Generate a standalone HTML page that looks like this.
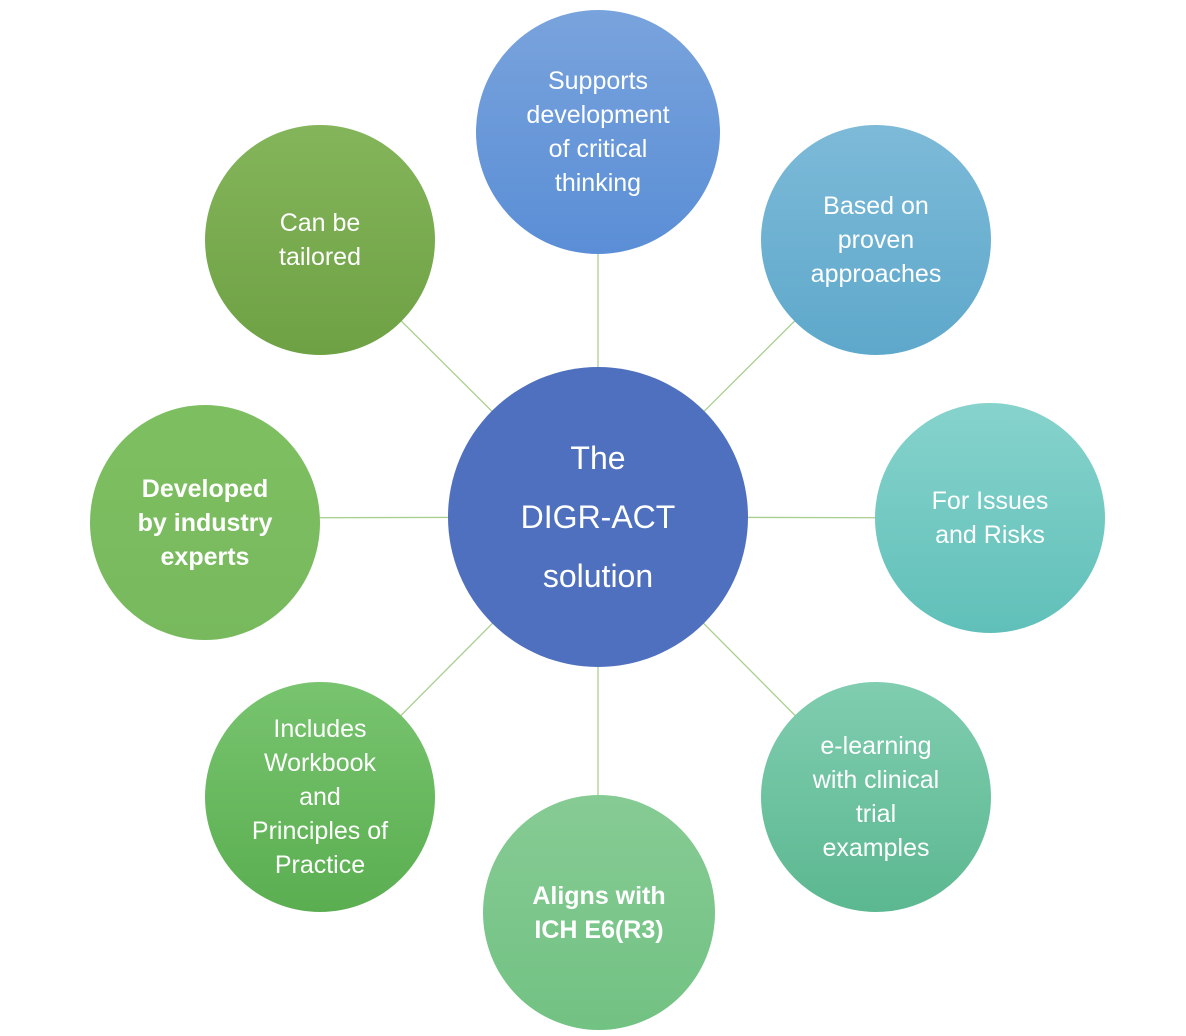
<!DOCTYPE html>
<html><head><meta charset="utf-8"><style>
body{margin:0;background:#fff;width:1186px;height:1036px;overflow:hidden;font-family:"Liberation Sans",sans-serif}
.c{position:absolute;border-radius:50%;display:flex;align-items:center;justify-content:center;text-align:center;color:#fff;font-size:25px;line-height:34px}
</style></head><body>
<svg width="1186" height="1036" style="position:absolute;left:0;top:0">
<g stroke="#a9cf8f" stroke-width="1.3">
<line x1="598" y1="517" x2="598" y2="132"/>
<line x1="598" y1="517" x2="876" y2="240"/>
<line x1="598" y1="517" x2="990" y2="518"/>
<line x1="598" y1="517" x2="876" y2="797"/>
<line x1="598" y1="517" x2="598" y2="910"/>
<line x1="598" y1="517" x2="320" y2="797"/>
<line x1="598" y1="517" x2="205" y2="518"/>
<line x1="598" y1="517" x2="320" y2="240"/>
</g></svg>
<div class="c" style="left:476px;top:10px;width:244px;height:244px;background:linear-gradient(#79a3dc,#5a8ed6)">Supports<br>development<br>of critical<br>thinking</div>
<div class="c" style="left:761px;top:125px;width:230px;height:230px;background:linear-gradient(#7dbad8,#5ea8cb)">Based on<br>proven<br>approaches</div>
<div class="c" style="left:875px;top:403px;width:230px;height:230px;background:linear-gradient(#86d3cc,#60c0b9)">For Issues<br>and Risks</div>
<div class="c" style="left:761px;top:682px;width:230px;height:230px;background:linear-gradient(#80cdb0,#5bb890)">e-learning<br>with clinical<br>trial<br>examples</div>
<div class="c" style="left:483px;top:795px;width:232px;height:235px;background:linear-gradient(#86cb94,#72c283);font-weight:bold">Aligns with<br>ICH E6(R3)</div>
<div class="c" style="left:205px;top:682px;width:230px;height:230px;background:linear-gradient(#78c46f,#5aae50)">Includes<br>Workbook<br>and<br>Principles of<br>Practice</div>
<div class="c" style="left:90px;top:405px;width:230px;height:235px;background:linear-gradient(#7dbf60,#78b95e);font-weight:bold">Developed<br>by industry<br>experts</div>
<div class="c" style="left:205px;top:125px;width:230px;height:230px;background:linear-gradient(#84b55a,#6ea044)">Can be<br>tailored</div>
<div class="c" style="left:448px;top:367px;width:300px;height:300px;background:#4f70be;font-size:32px;line-height:59px">The<br>DIGR-ACT<br>solution</div>
</body></html>
